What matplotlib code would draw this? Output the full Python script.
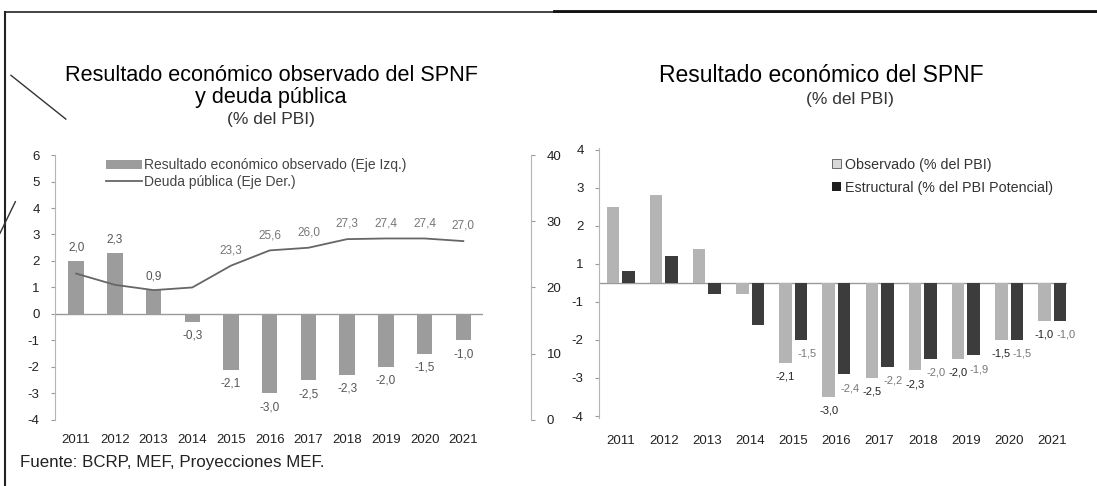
import numpy as np
import matplotlib.pyplot as plt
from matplotlib.patches import Patch
from matplotlib.lines import Line2D

plt.rcParams['font.family'] = ['Liberation Sans', 'DejaVu Sans']
plt.rcParams['axes.unicode_minus'] = False

# Series (% del PBI)
years = ['2011', '2012', '2013', '2014', '2015', '2016', '2017', '2018', '2019', '2020', '2021']
resultado_obs = [2.0, 2.3, 0.9, -0.3, -2.1, -3.0, -2.5, -2.3, -2.0, -1.5, -1.0]
deuda_publica = [22.1, 20.4, 19.6, 20.0, 23.3, 25.6, 26.0, 27.3, 27.4, 27.4, 27.0]
resultado_estructural = [0.3, 0.7, -0.3, -1.1, -1.5, -2.4, -2.2, -2.0, -1.9, -1.5, -1.0]
primer_anio_etiqueta = 4  # labels from 2015 onwards

left_ticks = [6, 5, 4, 3, 2, 1, 0, -1, -2, -3, -4]
right_ticks = [40, 30, 20, 10, 0]
# the right-hand chart carries its labels between the unit lines
rhs_tick_pos = [3.5, 2.5, 1.5, 0.5, -0.5, -1.5, -2.5, -3.5]
rhs_tick_lab = ['4', '3', '2', '1', '-1', '-2', '-3', '-4']


def fmt(v):
    return f'{v:.1f}'.replace('.', ',')


fig = plt.figure(figsize=(10.97, 4.86), dpi=100)
x = np.arange(len(years))
axis_gray = '#9a9a9a'

# ---------------- left chart ----------------
ax1 = fig.add_axes([0.050, 0.136, 0.390, 0.545])
ax1.bar(x, resultado_obs, width=0.40, color='#9c9c9c', zorder=2)
ax1.axhline(0, color=axis_gray, lw=1.0, zorder=1)
ax1.set_xlim(-0.55, 10.5)
ax1.set_ylim(-4, 6)
ax1.set_yticks(left_ticks)
ax1.set_xticks(x)
ax1.set_xticklabels(years)
ax1.tick_params(axis='x', length=0, pad=10, labelsize=9.5, colors='#222222')
ax1.tick_params(axis='y', length=3, width=0.8, color=axis_gray, labelsize=9.5,
                labelcolor='#222222', pad=8)
for s in ['top', 'right', 'bottom']:
    ax1.spines[s].set_visible(False)
ax1.spines['left'].set_color('#b5b5b5')

for i, v in enumerate(resultado_obs):
    off = 10 if v >= 0 else -10
    ax1.annotate(fmt(v), (x[i], v), xytext=(0, off), textcoords='offset points',
                 ha='center', va='center', fontsize=8.5, color='#555555')

ax2 = ax1.twinx()
ax2.plot(x, deuda_publica, color='#666666', lw=1.3, zorder=3)
ax2.set_ylim(0, 40)
ax2.set_yticks(right_ticks)
ax2.spines['right'].set_position(('outward', 35))
ax2.spines['right'].set_color('#b5b5b5')
for s in ['top', 'left', 'bottom']:
    ax2.spines[s].set_visible(False)
ax2.tick_params(axis='y', length=3, width=0.8, color=axis_gray, labelsize=9.5,
                labelcolor='#222222', pad=8)
for i in range(primer_anio_etiqueta, len(years)):
    ax2.annotate(fmt(deuda_publica[i]), (x[i], deuda_publica[i]), xytext=(0, 11),
                 textcoords='offset points', ha='center', va='center',
                 fontsize=8.5, color='#777777')

handles1 = [Patch(facecolor='#9c9c9c', edgecolor='none'),
            Line2D([0], [0], color='#666666', lw=1.3)]
ax1.legend(handles1, ['Resultado económico observado (Eje Izq.)', 'Deuda pública (Eje Der.)'],
           loc='upper left', bbox_to_anchor=(0.09, 1.035), frameon=False,
           fontsize=10, handlelength=2.6, handleheight=0.55, handletextpad=0.15,
           labelspacing=0.2, labelcolor='#444444')

fig.text(0.247, 0.845, 'Resultado económico observado del SPNF', ha='center', va='center', fontsize=15.6)
fig.text(0.247, 0.800, 'y deuda pública', ha='center', va='center', fontsize=15.6)
fig.text(0.247, 0.755, '(% del PBI)', ha='center', va='center', fontsize=12.5, color='#333333')

# ---------------- right chart ----------------
ax3 = fig.add_axes([0.546, 0.140, 0.427, 0.556])
w = 0.29
ax3.bar(x - 0.18, resultado_obs, width=w, color='#b4b4b4', zorder=2)
ax3.bar(x + 0.18, resultado_estructural, width=w, color='#3c3c3c', zorder=2)
ax3.axhline(0, color=axis_gray, lw=1.0, zorder=1)
ax3.set_xlim(-0.5, 10.35)
ax3.set_ylim(-3.55, 3.55)
ax3.set_yticks(rhs_tick_pos)
ax3.set_yticklabels(rhs_tick_lab)
ax3.set_xticks(x)
ax3.set_xticklabels(years)
ax3.tick_params(axis='x', length=0, pad=12, labelsize=9.5, colors='#222222')
ax3.tick_params(axis='y', length=3, width=0.8, color=axis_gray, labelsize=9.5,
                labelcolor='#222222', pad=8)
for s in ['top', 'right', 'bottom']:
    ax3.spines[s].set_visible(False)
ax3.spines['left'].set_color('#b5b5b5')

for i in range(primer_anio_etiqueta, len(years)):
    ax3.annotate(fmt(resultado_obs[i]), (x[i] - 0.18, resultado_obs[i]), xytext=(0, -10),
                 textcoords='offset points', ha='center', va='center',
                 fontsize=8, color='#222222')
    ax3.annotate(fmt(resultado_estructural[i]), (x[i] + 0.18, resultado_estructural[i]),
                 xytext=(4, -10), textcoords='offset points', ha='center', va='center',
                 fontsize=8, color='#777777')

handles3 = [Patch(facecolor='#d8d8d8', edgecolor='#555555', lw=0.6),
            Patch(facecolor='#1e1e1e', edgecolor='none')]
ax3.legend(handles3, ['Observado (% del PBI)', 'Estructural (% del PBI Potencial)'],
           loc='upper left', bbox_to_anchor=(0.47, 1.01), frameon=False,
           fontsize=10.3, handlelength=0.6, handleheight=0.6, handletextpad=0.3,
           labelspacing=0.6, labelcolor='#333333')

fig.text(0.749, 0.845, 'Resultado económico del SPNF', ha='center', va='center', fontsize=16.5)
fig.text(0.775, 0.795, '(% del PBI)', ha='center', va='center', fontsize=12.5, color='#333333')

fig.text(0.018, 0.048, 'Fuente: BCRP, MEF, Proyecciones MEF.', ha='left', va='center',
         fontsize=12.2, color='#222222')

# page frame and pen marks
fig.add_artist(Line2D([0.005, 1.0], [0.975, 0.975], color='#222222', lw=1.2))
fig.add_artist(Line2D([0.505, 1.0], [0.977, 0.977], color='#111111', lw=2.0))
fig.add_artist(Line2D([0.005, 0.005], [0.0, 0.975], color='#222222', lw=1.5))
fig.add_artist(Line2D([0.010, 0.060], [0.845, 0.755], color='#333333', lw=1.0))
fig.add_artist(Line2D([0.0, 0.014], [0.520, 0.585], color='#333333', lw=1.0))

fig.savefig('out.png', dpi=100, facecolor='white')
